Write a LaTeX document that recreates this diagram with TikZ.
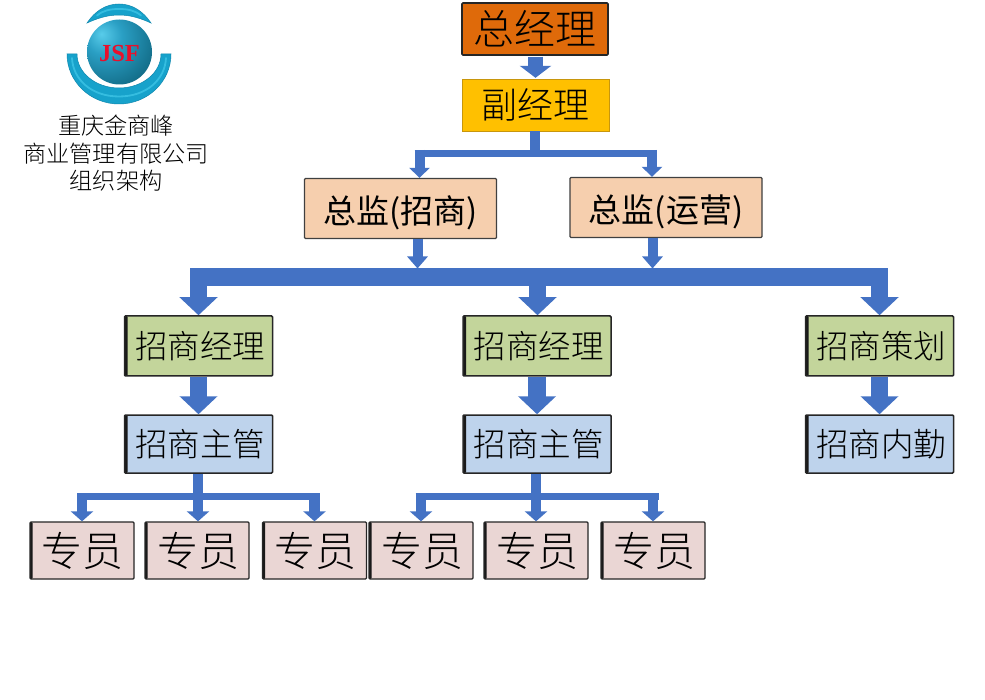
\documentclass[tikz,border=0pt]{standalone}
\usepackage{fontspec}
\setmainfont{Liberation Serif}
\newfontfamily\cjk{Noto Sans CJK SC}[UprightFont=* Light,BoldFont=*]
\newfontfamily\cjkb{Noto Sans CJK SC}
\usetikzlibrary{arrows.meta}
\definecolor{arrowblue}{HTML}{4472C4}
\definecolor{bossfill}{HTML}{DF6A0A}
\definecolor{vicefill}{HTML}{FFC000}
\definecolor{vicedraw}{HTML}{C8960C}
\definecolor{headfill}{HTML}{F6CFAE}
\definecolor{mgrfill}{HTML}{C3D59B}
\definecolor{supfill}{HTML}{BED3EC}
\definecolor{stafffill}{HTML}{EAD6D4}
\definecolor{ringmain}{HTML}{17A2CB}
\definecolor{ringedge}{HTML}{0F87AE}
\definecolor{ringlight}{HTML}{35BDE0}
\definecolor{ballA}{HTML}{58CCEA}
\definecolor{ballB}{HTML}{2A9FC4}
\definecolor{ballC}{HTML}{14708C}
\definecolor{ballD}{HTML}{03232C}
\definecolor{logored}{HTML}{E8102C}
\pgfdeclareradialshading{jsfball}{\pgfpoint{-14bp}{14bp}}{%
 color(0bp)=(ballA); color(14bp)=(ballB); color(36bp)=(ballC); color(62bp)=(ballD); color(100bp)=(ballD)}
\tikzset{
 box/.style={rectangle,rounded corners=1pt,inner sep=0pt,text=black,font=\cjk},
 boss/.style={box,draw=black!85,line width=1.6pt,fill=bossfill,minimum width=146pt,minimum height=52pt,
   font={\cjk\fontsize{41}{41}\selectfont}},
 vice/.style={box,draw=vicedraw,line width=.8pt,fill=vicefill,rounded corners=0pt,minimum width=147pt,minimum height=52pt,
   font={\cjk\fontsize{36}{36}\selectfont}},
 head/.style={box,draw=black!75,line width=1.3pt,fill=headfill,minimum width=192pt,minimum height=60pt,
   font={\cjkb\fontsize{33}{33}\selectfont}},
 thickleft/.style={path picture={\fill[black!90] (path picture bounding box.south west) rectangle ([xshift=#1]path picture bounding box.north west);}},
 mgr/.style={box,draw=black!85,line width=1.5pt,fill=mgrfill,minimum width=148pt,minimum height=60pt,thickleft=3pt,
   font={\cjk\fontsize{32.5}{32.5}\selectfont}},
 sup/.style={box,draw=black!85,line width=1.5pt,fill=supfill,minimum width=148pt,minimum height=58pt,thickleft=3pt,
   font={\cjk\fontsize{32.5}{32.5}\selectfont}},
 staff/.style={box,draw=black!85,line width=1.3pt,fill=stafffill,minimum width=104pt,minimum height=57pt,thickleft=2.5pt,
   font={\cjk\fontsize{41}{41}\selectfont}},
 title/.style={align=center,inner sep=0pt,font={\cjk\fontsize{23.2}{27.5}\selectfont}},
 bigarrow/.style={draw=arrowblue,line width=17.5pt,-{Triangle[length=18pt,width=37pt]}},
 busline/.style={draw=arrowblue,line width=16.5pt},
 medarrow/.style={draw=arrowblue,line width=15pt,-{Triangle[length=12pt,width=31pt]}},
 smallarrow/.style={draw=arrowblue,line width=10pt,-{Triangle[length=10pt,width=20pt]}},
 lowarrow/.style={draw=arrowblue,line width=10pt,-{Triangle[length=12pt,width=20pt]}},
 teearrow/.style={draw=arrowblue,line width=10.5pt,-{Triangle[length=10pt,width=22pt]}},
 trunk/.style={draw=arrowblue,line width=10pt},
 barline/.style={draw=arrowblue,line width=7pt},
 ringpart/.style={fill=ringmain,draw=ringedge,line width=.5pt},
 ringshine/.style={draw=ringlight,line width=1.8pt,line cap=round}
}
\newcommand{\nudge}[2]{\hspace*{#1}#2}
\begin{document}
\begin{tikzpicture}[x=1pt,y=-1pt]
\useasboundingbox (0,0) rectangle (985,700);
\fill[white] (0,0) rectangle (985,700);
% logo
\path[ringpart] (87,23) .. controls (95,11) and (106,4) .. (119,4) .. controls (132,4) and (143,11) .. (151,23) .. controls (140,18) and (130,15) .. (119,15) .. controls (108,15) and (98,18) .. (87,23) -- cycle;
\draw[ringshine] (97,15.5) .. controls (103,10.5) and (110,9) .. (119,9) .. controls (128,9) and (135,10.5) .. (141,15.5);
\path[ringpart] (67,54) .. controls (67,81.6) and (90.3,104) .. (119,104) .. controls (147.7,104) and (171,81.6) .. (171,54) -- (161,54) .. controls (161,72.8) and (142.2,88) .. (119,88) .. controls (95.8,88) and (77,72.8) .. (77,54) -- cycle;
\draw[ringshine] (72,58) .. controls (73,80) and (92,96.5) .. (119,96.5) .. controls (146,96.5) and (165,80) .. (166,58);
\path[shading=jsfball] (119.5,52) circle[radius=32.5];
\node (logotext) at (119.5,54) {\fontsize{24.5}{24.5}\selectfont\bfseries\color{logored}JSF};
\node[title] (company) at (116,153.5) {重庆金商峰\\商业管理有限公司\\组织架构};
% boxes
\node[boss] (gm) at (535,29) {总经理};
\node[vice] (vgm) at (535.5,105) {副经理};
\node[head] (dirA) at (400.5,208.5) {\rule{0pt}{36pt}总监(招商)};
\node[head] (dirB) at (666,207.5) {\rule{0pt}{36pt}总监(运营)};
\node[mgr] (mgrA) at (198.5,346) {\nudge{3pt}{招商经理}};
\node[mgr] (mgrB) at (537,346) {\nudge{3pt}{招商经理}};
\node[mgr] (mgrC) at (879.5,346) {\nudge{3pt}{招商策划}};
\node[sup] (supA) at (198.5,444) {\nudge{3pt}{招商主管}};
\node[sup] (supB) at (537,444) {\nudge{3pt}{招商主管}};
\node[sup] (supC) at (879.5,444) {\nudge{3pt}{招商内勤}};
\node[staff] (sa) at (82,550.5) {\nudge{1pt}{专员}};
\node[staff] (sb) at (197,550.5) {\nudge{3pt}{专员}};
\node[staff] (sc) at (314.5,550.5) {\nudge{2pt}{专员}};
\node[staff] (sd) at (421,550.5) {\nudge{2pt}{专员}};
\node[staff] (se) at (536,550.5) {\nudge{2pt}{专员}};
\node[staff] (sf) at (653,550.5) {\nudge{2pt}{专员}};
% junctions
\coordinate (jTop) at (535,153.5);
\coordinate (jTopL) at (419.5,150);
\coordinate (jTopR) at (652,150);
\coordinate (busL) at (198,277);
\coordinate (busC) at (537.5,269);
\coordinate (busR) at (879.5,277);
\coordinate (busA) at (417.5,268.5);
\coordinate (busB) at (652.5,268.5);
\coordinate (jA) at (198,496.5);
\coordinate (jB) at (536,496.5);
% connectors
\draw[medarrow] ([yshift=-.8pt,xshift=.5pt]gm.south) -- ([yshift=.8pt]vgm.north);
\draw[trunk] (jTop |- vgm.south) -- (jTop);
\draw[barline] (jTopL |- jTop) ++(-5pt,0) -- ++(242.5pt,0);
\draw[smallarrow] (jTopL) -- (jTopL |- dirA.north);
\draw[smallarrow] (jTopR) -- (jTopR |- dirB.north);
\draw[lowarrow] (busA |- dirA.south) -- (busA);
\draw[lowarrow] (busB |- dirB.south) -- (busB);
\draw[busline] (busL) -- (busR);
\draw[bigarrow] (busC) -- (busC |- mgrB.north);
\draw[bigarrow] (busC |- busL) -| (mgrA.north);
\draw[bigarrow] (busC |- busL) -| (mgrC.north);
\draw[bigarrow] (mgrA.south) -- (supA.north);
\draw[bigarrow] (mgrB.south) -- (supB.north);
\draw[bigarrow] (mgrC.south) -- (supC.north);
\draw[trunk] (jA |- supA.south) -- (jA);
\draw[trunk] (jB |- supB.south) -- (jB);
\draw[barline] (sa.north |- jA) ++(-5pt,0) -- ++(243pt,0);
\draw[barline] (sd.north |- jB) ++(-5.5pt,0) -- ++(243.5pt,0);
\draw[teearrow] ([yshift=3.5pt]sa.north |- jA) -- (sa.north);
\draw[teearrow] (jA) -- (jA |- sb.north);
\draw[teearrow] ([yshift=3.5pt]sc.north |- jA) -- (sc.north);
\draw[teearrow] ([yshift=3.5pt]sd.north |- jB) -- (sd.north);
\draw[teearrow] (jB) -- (se.north);
\draw[teearrow] ([yshift=3.5pt]sf.north |- jB) -- (sf.north);
\end{tikzpicture}
\end{document}
